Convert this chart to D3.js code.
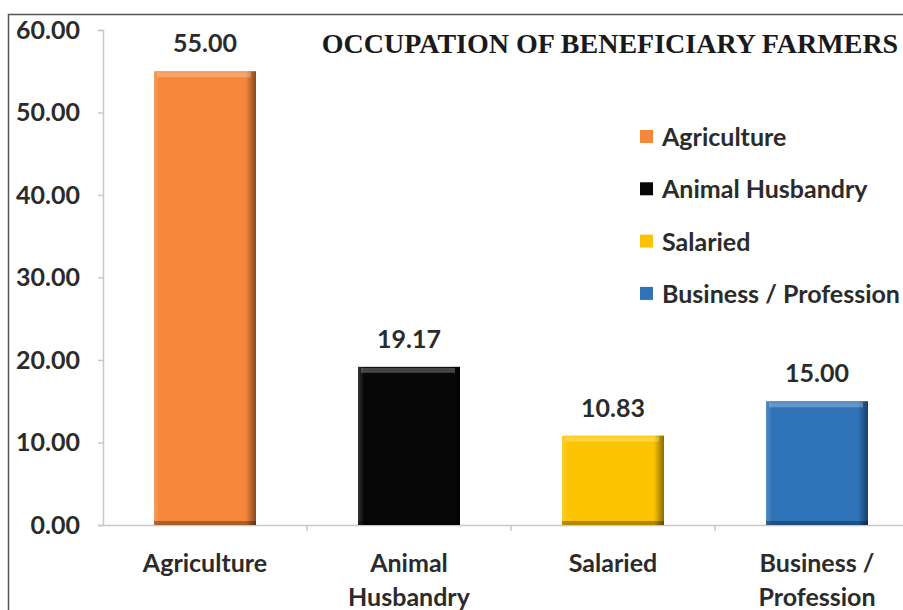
<!DOCTYPE html>
<html>
<head>
<meta charset="utf-8">
<script src="https://cdn.jsdelivr.net/npm/d3@7"></script>
<style>
  html, body { margin: 0; padding: 0; background: #fff; }
  svg { display: block; }
</style>
</head>
<body>
<svg id="chart" width="903" height="610"></svg>
<script>
// Occupation of beneficiary farmers (percent)
const categories = ["Agriculture", "Animal Husbandry", "Salaried", "Business / Profession"];
const axisLabels = [["Agriculture"], ["Animal", "Husbandry"], ["Salaried"], ["Business /", "Profession"]];
const values = [55.00, 19.17, 10.83, 15.00];
const colors = ["#f5863a", "#070707", "#fcc400", "#2f73b8"];
const yTicks = [0, 10, 20, 30, 40, 50, 60];
const title = "OCCUPATION OF BENEFICIARY FARMERS";

const svg = d3.select("#chart");
const font = "Lato, 'Open Sans', sans-serif";
const textColor = "#2b2b2b";
const fs = 25;

// frame
svg.append("rect")
  .attr("x", 8.5).attr("y", 14.5)
  .attr("width", 1000).attr("height", 1000)
  .attr("fill", "none").attr("stroke", "#555").attr("stroke-width", 1.5);

const plot = { left: 103, right: 919, top: 30, bottom: 525 };

const x = d3.scaleBand().domain(categories)
  .range([plot.left, plot.right]).paddingInner(0.5).paddingOuter(0.25);
const y = d3.scaleLinear().domain([0, 60]).range([plot.bottom, plot.top]);

// bevel gradients
const defs = svg.append("defs");
const hg = defs.append("linearGradient").attr("id", "bevelH").attr("x1", 0).attr("x2", 1).attr("y1", 0).attr("y2", 0);
hg.append("stop").attr("offset", 0).attr("stop-color", "#fff").attr("stop-opacity", 0.18);
hg.append("stop").attr("offset", 0.06).attr("stop-color", "#fff").attr("stop-opacity", 0);
hg.append("stop").attr("offset", 0.9).attr("stop-color", "#000").attr("stop-opacity", 0);
hg.append("stop").attr("offset", 1).attr("stop-color", "#000").attr("stop-opacity", 0.45);

// y axis
const yAxis = svg.append("g")
  .attr("transform", `translate(${plot.left},0)`)
  .call(d3.axisLeft(y).tickValues(yTicks).tickFormat(d3.format(".2f")).tickSize(5).tickPadding(18));
yAxis.select(".domain").attr("stroke", "#c8c8c8").attr("stroke-width", 1.5);
yAxis.selectAll(".tick line").attr("stroke", "#c8c8c8").attr("stroke-width", 1.5);
yAxis.selectAll(".tick text")
  .attr("font-family", font).attr("font-weight", 700).attr("font-size", fs).attr("fill", textColor);

// x axis
const xAxis = svg.append("g")
  .attr("transform", `translate(0,${plot.bottom})`)
  .call(d3.axisBottom(x).tickSize(0).tickFormat(""));
xAxis.select(".domain").attr("stroke", "#c8c8c8").attr("stroke-width", 1.5);
// separators between categories
const step = x.step();
const seps = d3.range(1, categories.length).map(i => plot.left + i * step);
svg.append("g").selectAll("line").data(seps).join("line")
  .attr("x1", d => d).attr("x2", d => d)
  .attr("y1", plot.bottom).attr("y2", plot.bottom + 6)
  .attr("stroke", "#c8c8c8").attr("stroke-width", 1.5);

// bars
const bars = svg.append("g").selectAll("g").data(categories).join("g");
bars.append("rect")
  .attr("x", d => x(d)).attr("y", (d, i) => y(values[i]))
  .attr("width", x.bandwidth()).attr("height", (d, i) => y(0) - y(values[i]))
  .attr("fill", (d, i) => colors[i]);
bars.append("rect")
  .attr("x", d => x(d)).attr("y", (d, i) => y(values[i]))
  .attr("width", x.bandwidth()).attr("height", (d, i) => y(0) - y(values[i]))
  .attr("fill", "url(#bevelH)");
// top highlight and bottom shade
bars.append("rect")
  .attr("x", d => x(d) + 3).attr("y", (d, i) => y(values[i]) + 1)
  .attr("width", x.bandwidth() - 8).attr("height", 5)
  .attr("fill", "#fff").attr("opacity", 0.25);
bars.append("rect")
  .attr("x", d => x(d)).attr("y", (d, i) => y(0) - 4)
  .attr("width", x.bandwidth()).attr("height", 4)
  .attr("fill", "#000").attr("opacity", 0.3);

// value labels
bars.append("text")
  .attr("x", d => x(d) + x.bandwidth() / 2)
  .attr("y", (d, i) => y(values[i]) - 19)
  .attr("text-anchor", "middle")
  .attr("font-family", font).attr("font-weight", 700).attr("font-size", fs).attr("fill", textColor)
  .text((d, i) => d3.format(".2f")(values[i]));

// category labels
bars.each(function (d, i) {
  const t = d3.select(this).append("text")
    .attr("text-anchor", "middle")
    .attr("font-family", font).attr("font-weight", 700).attr("font-size", fs).attr("fill", textColor);
  axisLabels[i].forEach((line, j) => {
    t.append("tspan").attr("x", x(d) + x.bandwidth() / 2).attr("y", 572 + j * 34).text(line);
  });
});

// title
svg.append("text")
  .attr("x", 610).attr("y", 53)
  .attr("text-anchor", "middle")
  .attr("font-family", "'Liberation Serif', 'Times New Roman', serif")
  .attr("font-weight", 700).attr("font-size", 28).attr("fill", "#1a1a1a")
  .text(title);

// legend
const legend = svg.append("g").attr("transform", "translate(640,0)");
const rows = legend.selectAll("g").data(categories).join("g")
  .attr("transform", (d, i) => `translate(0,${137 + i * 52.3})`);
rows.append("rect").attr("x", 0).attr("y", -7).attr("width", 13).attr("height", 13)
  .attr("fill", (d, i) => colors[i]);
rows.append("text").attr("x", 22).attr("y", 9)
  .attr("font-family", font).attr("font-weight", 700).attr("font-size", fs).attr("fill", textColor)
  .text(d => d);
</script>
</body>
</html>
